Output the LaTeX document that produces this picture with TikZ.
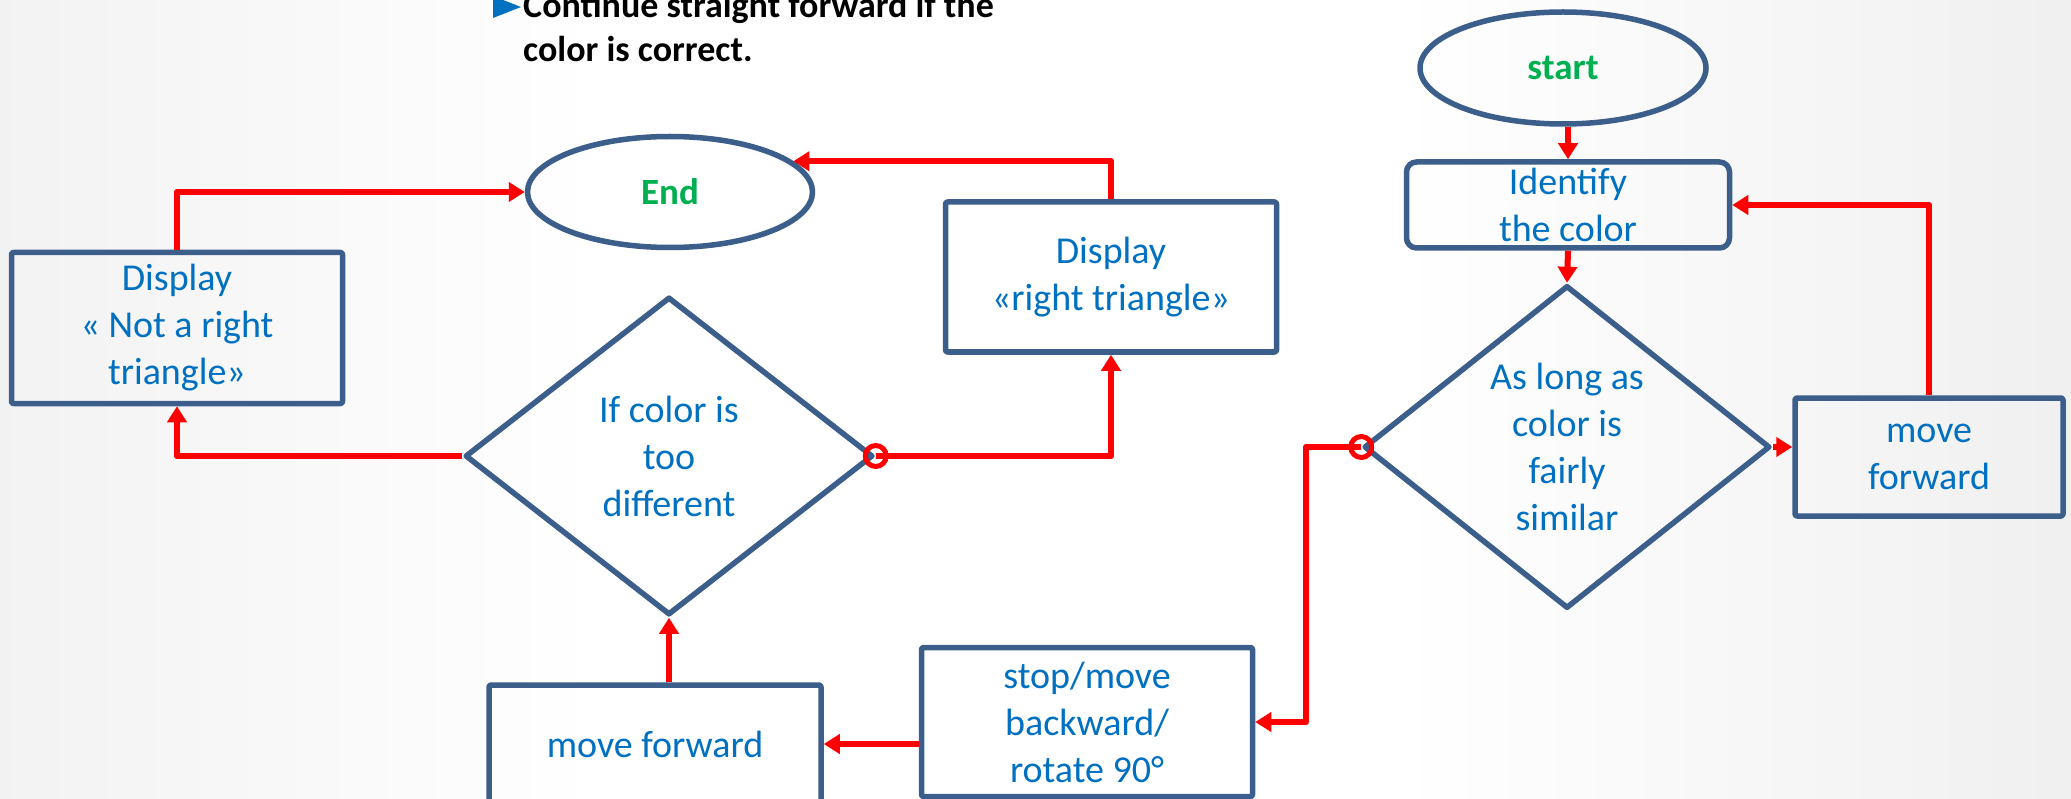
\documentclass[tikz,border=0pt]{standalone}
\usepackage{fontspec}
\setmainfont{Carlito}
\usetikzlibrary{shapes.geometric,arrows.meta,positioning}
\definecolor{lineblue}{RGB}{59,94,138}
\definecolor{textblue}{RGB}{0,112,192}
\definecolor{termgreen}{RGB}{0,176,80}

\begin{document}
\begin{tikzpicture}[x=1pt,y=-1pt,>={Triangle[length=16pt,width=19pt]},line join=round,
    box node/.style={rectangle,rounded corners=2pt,draw=lineblue,line width=5.5pt,inner sep=0pt,text=textblue,align=center,font=\fontsize{38}{47}\selectfont},
    term node/.style={ellipse,draw=lineblue,line width=5.5pt,inner sep=0pt,text=termgreen,font=\bfseries\fontsize{37}{44}\selectfont},
    choice node/.style={diamond,draw=lineblue,line width=5.5pt,inner sep=0pt},
    label node/.style={text=textblue,align=center,inner sep=0pt,font=\fontsize{38}{47}\selectfont},
    head node/.style={anchor=base west,inner sep=0pt,font=\bfseries\fontsize{36}{44}\selectfont},
    flow/.style={->,draw=red,line width=6pt},
    ring/.style={draw=red,line width=5pt}]
    \useasboundingbox (0,0) rectangle (2071,799);
    \clip (0,0) rectangle (2071,799);
    \fill[white] (0,0) rectangle (2071,799);
    \shade[left color=black!5,right color=white] (0,0) rectangle (600,799);
    \shade[left color=white,right color=black!6] (1400,0) rectangle (2071,799);

    % heading
    \fill[textblue] (493,-4) -- (521,7) -- (493,18) -- cycle;
    \node[head node] (head1) at (523,18) {Continue straight forward if the};
    \node[head node] (head2) at (523,62) {color is correct.};

    % right loop
    \node[term node,minimum width=286pt,minimum height=112pt] (start) at (1563,68) {start};
    \node[box node,rounded corners=10pt,minimum width=323pt,minimum height=86pt] (identify) at (1568,205) {Identify\\the color};
    \node[choice node,minimum width=406pt,minimum height=323pt] (similar) at (1567,447) {};
    \node[label node] at (similar) {As long as\\color is\\fairly\\similar};
    \node[box node,minimum width=268pt,minimum height=118pt] (moveR) at (1929,457) {move\\forward};
    \node[box node,minimum width=331pt,minimum height=149pt] (stop) at (1087,722) {stop/move\\backward/\\rotate 90°};
    \coordinate (bend) at (1306,447);

    % left part
    \node[term node,minimum width=285pt,minimum height=111pt] (End) at (670,192) {End};
    \node[choice node,minimum width=408pt,minimum height=318pt] (different) at (669,456) {};
    \node[label node] at (different) {If color is\\too\\different};
    \node[box node,minimum width=331pt,minimum height=151pt] (notright) at (177,328) {Display\\« Not a right\\triangle»};
    \node[box node,minimum width=331pt,minimum height=150pt] (righttri) at (1111,277) {Display\\«right triangle»};
    \node[box node,minimum width=332pt,minimum height=118pt] (moveL) at (655,744) {move forward};

    \draw[flow] (identify.north |- start.south) -- (identify.north);
    \draw[flow] (identify.south) -- (similar.north);
    \draw[flow] (similar.east) -- (similar.east -| moveR.west);
    \draw[flow] (moveR.north) |- (identify.east);
    \draw[flow] (similar.west) -- (bend) |- (stop.east);
    \draw[flow] (stop.west |- moveL.east) -- (moveL.east);
    \draw[flow] (different.south |- moveL.north) -- (different.south);
    \draw[flow] (different.west) -| (notright.south);
    \draw[flow] (notright.north) |- (End.west);
    \draw[flow] (different.east) -| (righttri.south);
    \draw[flow] (righttri.north) |- (End.14);
    \draw[ring] (similar.west) circle[radius=10.5pt];
    \draw[ring] (different.east) circle[radius=10.5pt];
\end{tikzpicture}
\end{document}
